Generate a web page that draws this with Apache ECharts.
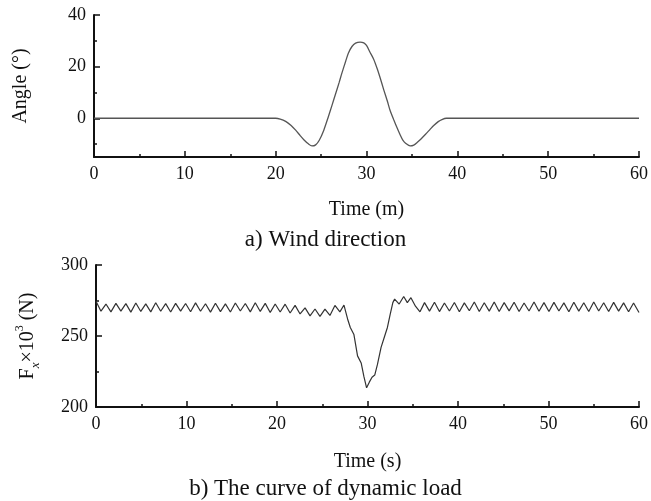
<!DOCTYPE html>
<html>
<head>
<meta charset="utf-8">
<script src="https://cdn.jsdelivr.net/npm/echarts@6/dist/echarts.min.js"></script>
<style>
  html, body { margin: 0; padding: 0; background: #fff; }
  #chart { width: 651px; height: 501px; }
</style>
</head>
<body>
<div id="chart"></div>
<script>
// Wind direction angle (deg) over time (min)
const windAngle = [
  [0, 0], [20, 0], [20.5, -0.3], [21.1, -1.2], [21.7, -2.8], [22.2, -4.6], [22.7, -6.7],
  [23.1, -8.3], [23.6, -9.9], [24.0, -10.7], [24.4, -10.3], [24.8, -8.5], [25.3, -4.6],
  [25.8, 0.6], [26.2, 5], [26.6, 9.5], [27.0, 14], [27.3, 17.6], [27.7, 22], [28.0, 25.2],
  [28.4, 27.8], [28.8, 29.1], [29.3, 29.5], [29.7, 29.2], [30.0, 28.2], [30.4, 25.5],
  [30.8, 22.8], [31.2, 19], [31.5, 15.7], [31.9, 11], [32.3, 6.6], [32.6, 3], [33.0, -0.6],
  [33.4, -4], [33.7, -6.4], [34.0, -8.5], [34.3, -9.7], [34.8, -10.7], [35.2, -10.4],
  [35.6, -9.3], [36.0, -8], [36.5, -6.2], [37.0, -4.3], [37.4, -2.8], [37.9, -1.3],
  [38.3, -0.5], [38.8, 0], [60, 0]
];

// Dynamic load Fx (x10^3 N) over time (s)
const loadForce = [
  [0, 274.5], [0.55, 267.5], [1.1, 272.5], [1.65, 267], [2.2, 273], [2.75, 267.5],
  [3.3, 272.8], [3.85, 266.8], [4.4, 273.2], [4.95, 267.3], [5.5, 272.6], [6.05, 267],
  [6.6, 273.4], [7.15, 267.4], [7.7, 272.8], [8.25, 266.9], [8.8, 273], [9.35, 267.5],
  [9.9, 272.9], [10.45, 267.1], [11, 273.3], [11.55, 267.4], [12.1, 272.7], [12.65, 266.8],
  [13.2, 273.1], [13.75, 267.2], [14.3, 272.6], [14.85, 266.9], [15.4, 273.2], [15.95, 267.6],
  [16.5, 272.9], [17.05, 267], [17.6, 273.4], [18.15, 267.3], [18.7, 273], [19.25, 266.6],
  [19.8, 272.5], [20.35, 266.9], [20.9, 272.4], [21.45, 266.2], [22, 271.6], [22.55, 265.5],
  [23.1, 269.8], [23.65, 264.2], [24.2, 269], [24.75, 263.8], [25.3, 268.9], [25.85, 264.5],
  [26.4, 271.5], [26.95, 267], [27.4, 271.8], [27.8, 262], [28.1, 256], [28.5, 251],
  [28.9, 236], [29.3, 231], [29.6, 221.5], [29.9, 213.5], [30.2, 217.5], [30.5, 221],
  [30.8, 222.5], [31.1, 230], [31.5, 242], [31.9, 250], [32.2, 256], [32.5, 265],
  [32.8, 273.5], [33.0, 276], [33.5, 272.5], [34.0, 277.8], [34.4, 273.5], [34.8, 277],
  [35.3, 271], [35.8, 267], [36.3, 273.5], [36.85, 267.5], [37.4, 273.8], [37.95, 267.2],
  [38.5, 273.2], [39.05, 267.6], [39.6, 273.6], [40.15, 267.1], [40.7, 273.3], [41.25, 267.8],
  [41.8, 273.9], [42.35, 267.3], [42.9, 273.4], [43.45, 267.5], [44.0, 274], [44.55, 267.2],
  [45.1, 273.5], [45.65, 267.7], [46.2, 273.8], [46.75, 267.3], [47.3, 273.2], [47.85, 267.6],
  [48.4, 273.9], [48.95, 267.4], [49.5, 273.5], [50.05, 267.2], [50.6, 273.7], [51.15, 267.6],
  [51.7, 273.3], [52.25, 267.1], [52.8, 273.8], [53.35, 267.5], [53.9, 273.4], [54.45, 267.3],
  [55.0, 273.9], [55.55, 267.6], [56.1, 273.4], [56.65, 267.2], [57.2, 273.7], [57.75, 267.5],
  [58.3, 273.3], [58.85, 267.1], [59.4, 273.2], [60.0, 266.5]
];

const angleMajorTicks = [0, 20, 40];
const angleMinorTicks = [-10, 10, 30];

const FONT = '"Liberation Serif", "Times New Roman", serif';
const INK = '#111';

const axisLine = { show: true, onZero: false, lineStyle: { color: INK, width: 2 } };
const tickLabel = { color: INK, fontFamily: FONT, fontSize: 18, margin: 8 };
const nameStyle = { color: INK, fontFamily: FONT, fontSize: 20 };

function timeAxis(gridIndex, name, gap) {
  return {
    type: 'value', gridIndex, min: 0, max: 60, interval: 10,
    name, nameLocation: 'middle', nameGap: gap, nameTextStyle: nameStyle,
    axisLine,
    axisTick: { show: true, inside: true, length: 6, lineStyle: { color: INK, width: 1.5 } },
    minorTick: { show: true, splitNumber: 2, length: 3, lineStyle: { color: INK, width: 1.5 } },
    axisLabel: tickLabel,
    splitLine: { show: false }
  };
}

const chart = echarts.init(document.getElementById('chart'), null, { renderer: 'canvas' });
chart.setOption({
  backgroundColor: '#fff',
  animation: false,
  title: [
    { text: 'a) Wind direction', left: 'center', top: 223,
      textStyle: { color: INK, fontFamily: FONT, fontSize: 23, fontWeight: 'normal' } },
    { text: 'b) The curve of dynamic load', left: 'center', top: 472,
      textStyle: { color: INK, fontFamily: FONT, fontSize: 23, fontWeight: 'normal' } }
  ],
  grid: [
    { left: 94, right: 11, top: 15, height: 142 },
    { left: 96, right: 8, top: 265, height: 142 }
  ],
  xAxis: [timeAxis(0, 'Time (m)', 43), timeAxis(1, 'Time (s)', 45)],
  yAxis: [
    {
      type: 'value', gridIndex: 0, min: -15, max: 40, position: 'left',
      name: 'Angle (°)', nameLocation: 'middle', nameGap: 63, nameTextStyle: nameStyle,
      axisLine,
      axisTick: { show: true, inside: true, length: 6, customValues: angleMajorTicks,
        lineStyle: { color: INK, width: 1.5 } },
      axisLabel: Object.assign({ customValues: angleMajorTicks }, tickLabel),
      splitLine: { show: false }
    },
    {
      type: 'value', gridIndex: 0, min: -15, max: 40, position: 'left',
      axisLine: { show: false },
      axisTick: { show: true, inside: true, length: 3, customValues: angleMinorTicks,
        lineStyle: { color: INK, width: 1.5 } },
      axisLabel: { show: false },
      splitLine: { show: false }
    },
    {
      type: 'value', gridIndex: 1, min: 200, max: 300, interval: 50, position: 'left',
      name: '{n|F}{sub|x}{n|×10}{sup|3}{n| (N)}', nameLocation: 'middle', nameGap: 54,
      nameTextStyle: {
        color: INK, fontFamily: FONT, fontSize: 20, padding: [0, 0, 0, 0],
        rich: {
          n: { color: INK, fontFamily: FONT, fontSize: 20, lineHeight: 28, verticalAlign: 'middle' },
          sub: { color: INK, fontFamily: FONT, fontSize: 13, fontStyle: 'italic', lineHeight: 28, verticalAlign: 'bottom' },
          sup: { color: INK, fontFamily: FONT, fontSize: 12, lineHeight: 28, verticalAlign: 'top' }
        }
      },
      axisLine,
      axisTick: { show: true, inside: true, length: 6, lineStyle: { color: INK, width: 1.5 } },
      minorTick: { show: true, splitNumber: 2, length: 3, lineStyle: { color: INK, width: 1.5 } },
      axisLabel: tickLabel,
      splitLine: { show: false }
    }
  ],
  series: [
    {
      type: 'line', xAxisIndex: 0, yAxisIndex: 0, data: windAngle,
      smooth: 0.25, showSymbol: false,
      lineStyle: { color: '#555', width: 1.3 }
    },
    {
      type: 'line', xAxisIndex: 1, yAxisIndex: 2, data: loadForce,
      showSymbol: false,
      lineStyle: { color: '#333', width: 1.2 }
    }
  ]
});
</script>
</body>
</html>
